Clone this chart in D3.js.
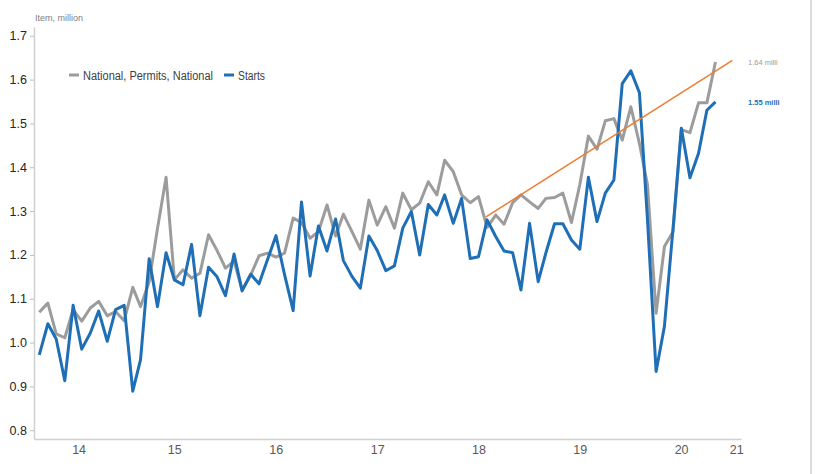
<!DOCTYPE html>
<html>
<head>
<meta charset="utf-8">
<script src="https://cdn.jsdelivr.net/npm/d3@7"></script>
<style>
body { margin: 0; background: #fff; }
svg { display: block; }
</style>
</head>
<body>
<svg></svg>
<script>
// monthly series, Mar 2014 .. Nov 2020 (million units, SAAR)
var firstMonth = new Date(2014, 2, 1);
var lastMonth = new Date(2020, 10, 1);

var permits = [1.069, 1.090, 1.020, 1.011, 1.075, 1.049, 1.079, 1.094, 1.061, 1.071,
    1.050, 1.126, 1.082, 1.139, 1.260, 1.377, 1.143, 1.166, 1.147, 1.158,
    1.246, 1.211, 1.170, 1.186, 1.120, 1.154, 1.198, 1.204, 1.195, 1.204,
    1.284, 1.274, 1.238, 1.253, 1.314, 1.243, 1.293, 1.253, 1.213, 1.325,
    1.268, 1.310, 1.261, 1.341, 1.303, 1.318, 1.367, 1.337, 1.416, 1.390,
    1.337, 1.319, 1.333, 1.263, 1.291, 1.270, 1.319, 1.337, 1.321, 1.306,
    1.329, 1.331, 1.341, 1.274, 1.360, 1.471, 1.441, 1.506, 1.511, 1.462,
    1.538, 1.454, 1.360, 1.067, 1.219, 1.253, 1.486, 1.479, 1.547, 1.547,
    1.640];

var starts = [0.972, 1.043, 1.008, 0.913, 1.085, 0.985, 1.022, 1.072, 1.003, 1.075,
    1.085, 0.889, 0.961, 1.191, 1.082, 1.205, 1.143, 1.132, 1.224, 1.061,
    1.172, 1.151, 1.107, 1.202, 1.118, 1.156, 1.134, 1.190, 1.244, 1.155,
    1.073, 1.321, 1.152, 1.266, 1.209, 1.282, 1.187, 1.151, 1.124, 1.243,
    1.210, 1.164, 1.175, 1.261, 1.299, 1.200, 1.315, 1.291, 1.337, 1.272,
    1.329, 1.192, 1.196, 1.280, 1.242, 1.209, 1.205, 1.120, 1.272, 1.139,
    1.205, 1.271, 1.271, 1.234, 1.213, 1.377, 1.276, 1.341, 1.371, 1.591,
    1.620, 1.570, 1.280, 0.934, 1.037, 1.260, 1.489, 1.376, 1.432, 1.530,
    1.549];

// permits trend line end points
var trendDates = [new Date(2018, 6, 28), new Date(2021, 0, 1)];
var trendValues = [1.287, 1.644];

var yTicks = [0.8, 0.9, 1.0, 1.1, 1.2, 1.3, 1.4, 1.5, 1.6, 1.7];
var yearLabels = ["14", "15", "16", "17", "18", "19", "20", "21"];
var seriesNames = ["National, Permits, National", "Starts"];
var endLabels = ["1.64 milli", "1.55 milli"];
var colors = ["#9c9c9c", "#1f6fb6"];

var svgWidth = 817, svgHeight = 474;
var months = d3.timeMonth.range(firstMonth, d3.timeMonth.offset(lastMonth, 1));

var svg = d3.select("svg")
        .attr("width", svgWidth)
        .attr("height", svgHeight)
        .style("font-family", "'Liberation Sans', sans-serif");

var x = d3.scaleTime()
        .domain([new Date(2014, 1, 10), new Date(2021, 1, 1)])
        .range([34, 741]);
var y = d3.scaleLinear()
        .domain([0.78, 1.72])
        .range([439, 27]);

// right border of the panel
svg.append("line")
        .attr("x1", 811).attr("x2", 811)
        .attr("y1", 0).attr("y2", svgHeight)
        .attr("stroke", "#dcdcdc")
        .attr("stroke-width", 2);

// y axis
var yAxis = svg.append("g")
        .attr("transform", "translate(34,0)")
        .call(d3.axisLeft(y).tickValues(yTicks).tickSize(4).tickSizeOuter(0)
            .tickFormat(d3.format(".1f")));
yAxis.select(".domain").attr("stroke", "#d0d0d0").attr("stroke-width", 1.5);
yAxis.selectAll(".tick line").attr("stroke", "#bdbdbd");
yAxis.selectAll(".tick text")
        .attr("x", -7)
        .attr("fill", "#262626")
        .style("font-size", "12.5px");

// x axis: baseline plus year labels centred in each (clipped) year band
var xAxis = svg.append("g")
        .attr("transform", "translate(0,439)")
        .call(d3.axisBottom(x).tickValues([]).tickSizeOuter(0));
xAxis.select(".domain").attr("stroke", "#d0d0d0").attr("stroke-width", 1.5);

var dom = x.domain();
xAxis.selectAll(".year")
        .data(yearLabels)
        .enter()
        .append("text")
        .attr("class", "year")
        .attr("x", function(d) {
            var yr = 2000 + (+d);
            var a = new Date(Math.max(new Date(yr, 0, 1), dom[0]));
            var b = new Date(Math.min(new Date(yr + 1, 0, 1), dom[1]));
            return (x(a) + x(b)) / 2;
        })
        .attr("y", 15)
        .attr("text-anchor", "middle")
        .attr("fill", "#595959")
        .style("font-size", "12.5px")
        .text(function(d) { return d; });

// axis title
svg.append("text")
        .attr("x", 35)
        .attr("y", 21)
        .attr("fill", "#7f7f7f")
        .style("font-size", "9px")
        .text("Item, million");

// series
var line = d3.line()
        .x(function(d, i) { return x(months[i]); })
        .y(function(d) { return y(d); });

[permits, starts].forEach(function(series, k) {
    svg.append("path")
        .datum(series)
        .attr("d", line)
        .attr("fill", "none")
        .attr("stroke", colors[k])
        .attr("stroke-width", 3)
        .attr("stroke-linejoin", "round");
});

// trend line
svg.append("line")
        .attr("x1", x(trendDates[0])).attr("y1", y(trendValues[0]))
        .attr("x2", x(trendDates[1])).attr("y2", y(trendValues[1]))
        .attr("stroke", "#ed7d31")
        .attr("stroke-width", 1.5);

// end labels
var lastValues = [permits[permits.length - 1], starts[starts.length - 1]];
svg.selectAll(".endLabel")
        .data(endLabels)
        .enter()
        .append("text")
        .attr("class", "endLabel")
        .attr("x", 748)
        .attr("y", function(d, i) { return y(lastValues[i]) + 3; })
        .attr("fill", function(d, i) { return colors[i]; })
        .attr("font-weight", function(d, i) { return i ? "bold" : "normal"; })
        .style("font-size", "7.5px")
        .text(function(d) { return d; });

// legend (text squeezed to the narrow width of the original font)
var legendX = [69, 224];
var legendW = [130, 27];
var legend = svg.selectAll(".legend")
        .data(seriesNames)
        .enter()
        .append("g")
        .attr("class", "legend")
        .attr("transform", function(d, i) { return "translate(" + legendX[i] + ",75)"; });
legend.append("line")
        .attr("x1", 0).attr("x2", 10)
        .attr("stroke", function(d, i) { return colors[i]; })
        .attr("stroke-width", 3);
legend.append("text")
        .attr("x", 14)
        .attr("y", 4.5)
        .attr("fill", "#404040")
        .attr("textLength", function(d, i) { return legendW[i]; })
        .attr("lengthAdjust", "spacingAndGlyphs")
        .style("font-size", "12.5px")
        .text(function(d) { return d; });
</script>
</body>
</html>
